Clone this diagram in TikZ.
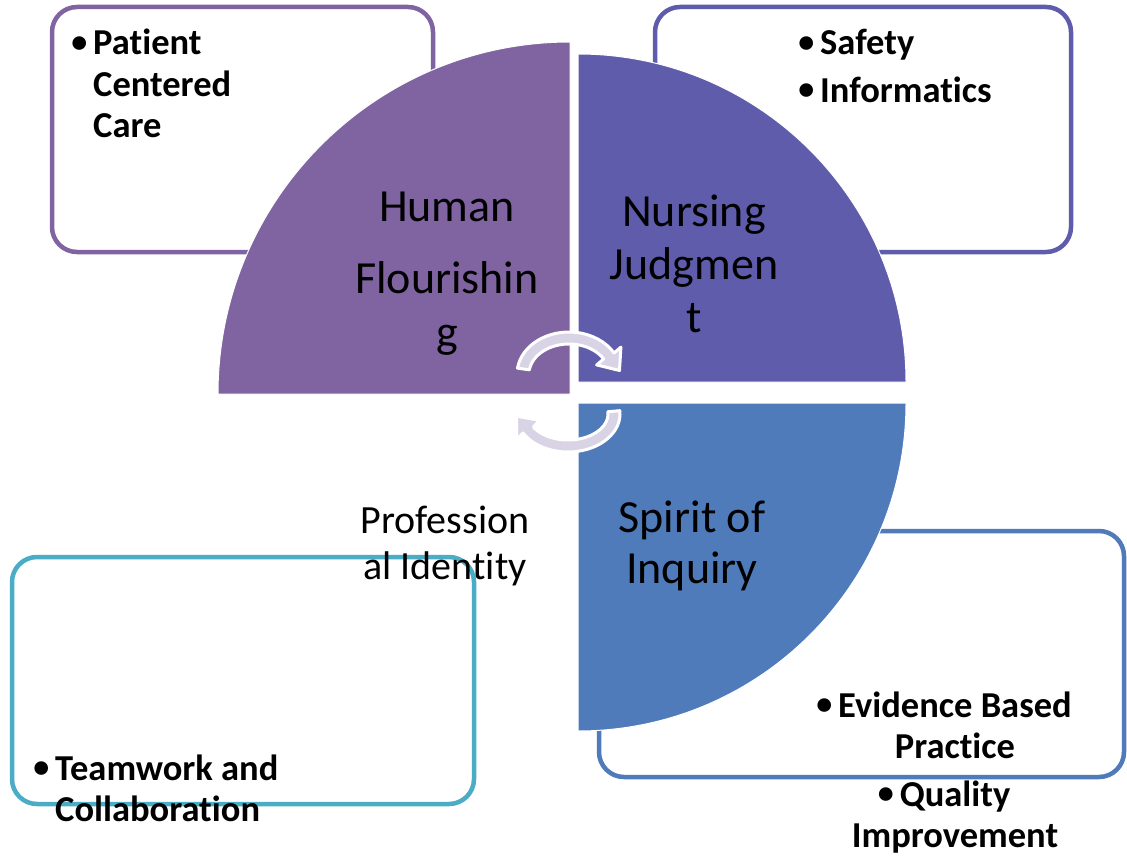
\documentclass[tikz,border=0pt]{standalone}
\usepackage{fontspec}
\setmainfont{Carlito}[Ligatures=NoCommon]
\usetikzlibrary{calc}
\definecolor{cPurple}{HTML}{8064A2}
\definecolor{cIndigo}{HTML}{5F5DAB}
\definecolor{cBlue}{HTML}{4F7BBB}
\definecolor{cTeal}{HTML}{4BACC6}
\definecolor{cArrow}{HTML}{D8D4E5}
\newcommand\mybullet{\llap{\raisebox{2.5pt}{\fontsize{32}{32}\selectfont •}\hspace{6pt}}}
\begin{document}
\begin{tikzpicture}[x=1pt,y=-1pt,
  box/.style={line width=4.5pt, rounded corners=25pt, fill=white},
  wedge/.style={draw=white, line width=1pt},
  lbl/.style={align=center, anchor=base, inner sep=0pt},
  item/.style={font=\fontsize{36.5}{41.5}\selectfont\bfseries, inner sep=0pt, anchor=base west, align=left},
  citem/.style={font=\fontsize{36.5}{41}\selectfont\bfseries, inner sep=0pt, anchor=base, align=center},
  cyc/.style={fill=cArrow, draw=white, line width=3pt, line join=round}]
\useasboundingbox (0,0) rectangle (1127,856);
% boxes
\draw[box, draw=cPurple] (52,7) rectangle (433,252);
\draw[box, draw=cIndigo] (655,7) rectangle (1071,252);
\draw[box, draw=cTeal] (12,557) rectangle (474,804);
\draw[box, draw=cBlue] (599,531) rectangle (1124,777);
% wedges
\filldraw[wedge, fill=cPurple] (570,394) -- (218,394) arc[start angle=180, end angle=270, radius=352] -- cycle;
\filldraw[wedge, fill=cIndigo] (578,382) -- (578,54) arc[start angle=270, end angle=360, radius=328] -- cycle;
\filldraw[wedge, fill=cBlue] (578,403) -- (906,403) arc[start angle=0, end angle=90, radius=328] -- cycle;
% cycle arrows
\draw[cyc] ($(569,374)+(188:52 and 42)$) arc[start angle=188, end angle=330, x radius=52, y radius=42]
  -- (620.9,347.1) -- (619.5,370.5) -- (596.7,364.9)
  -- ($(569,374)+(330:40 and 30)$) arc[start angle=330, end angle=188, x radius=40, y radius=30] -- cycle;
\draw[cyc] ($(568,414)+(-5:52 and 38)$) arc[start angle=-5, end angle=150, x radius=52, y radius=38]
  -- (516.7,439.6) -- (516.7,416.2) -- (539.7,420.4)
  -- ($(568,414)+(150:40 and 26)$) arc[start angle=150, end angle=-5, x radius=40, y radius=26] -- cycle;
% wedge labels (anchor = baseline of last line)
\node[lbl, font=\fontsize{46}{54}\selectfont] (human) at (447,347) {Human\\[18pt]Flourishin\\g};
\node[lbl, font=\fontsize{46}{53}\selectfont] (nursing) at (694,332) {Nursing\\Judgmen\\t};
\node[lbl, font=\fontsize{46}{51}\selectfont] (spirit) at (692,583) {Spirit of\\Inquiry};
\node[lbl, font=\fontsize{40}{46}\selectfont] (prof) at (445,579) {Profession\\al Identity};
% bullet texts
\node[item] (pcc) at (93,138) {\mybullet Patient\\Centered\\Care};
\node[item] (safety) at (820,102.5) {\mybullet Safety\\[6pt]\mybullet Informatics};
\node[item] (team) at (55,821.5) {\mybullet Teamwork and\\Collaboration};
\node[citem] (ebp) at (955,847) {\mybullet Evidence Based\\Practice\\[7pt]\mybullet Quality\\Improvement};
\end{tikzpicture}
\end{document}
